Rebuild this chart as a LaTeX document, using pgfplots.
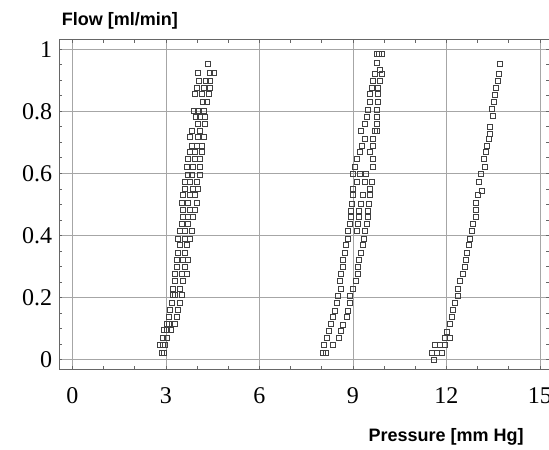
\documentclass[border=0pt]{standalone}
\usepackage{pgfplots}
\pgfplotsset{compat=1.18}
\usepackage{fontspec}
\setmainfont{Liberation Serif}
\newfontfamily\labelfont{Liberation Sans}
\begin{document}
\begin{tikzpicture}
\begin{axis}[
 at={(0,0)}, anchor=south west,
 scale only axis, width=244.85pt, height=164.65pt,
 xmin=-0.42, xmax=15.29, ymin=-0.0315, ymax=1.03,
 xtick={0,3,6,9,12,15}, ytick={0,0.2,0.4,0.6,0.8,1},
 minor x tick num=2, minor y tick num=3,
 tick align=inside, major tick length=1.5pt, minor tick length=1.5pt,
 grid=major, major grid style={black!35, line width=0.4pt},
 axis line style={black!60, line width=0.5pt},
 tick style={black!60, line width=0.4pt},
 ticklabel style={font=\fontsize{12}{12}\selectfont},
 /pgf/number format/assume math mode=true,
 yticklabel style={/pgf/number format/fixed, /pgf/number format/precision=1},
 xticklabel style={yshift=-5.5pt},
 xlabel={Pressure [mm Hg]}, ylabel={Flow [ml/min]},
 xlabel style={font=\labelfont\bfseries\fontsize{9}{9}\selectfont, at={(axis description cs:0.79,-0.206)}, anchor=center},
 ylabel style={font=\labelfont\bfseries\fontsize{9}{9}\selectfont, rotate=-90, at={(axis description cs:-0.009,1.058)}, anchor=west},
 pts/.style={only marks, mark=square, mark size=1.25pt, mark options={draw=black!75, fill=none, line width=0.45pt}},
]
% cluster 1
\addplot[pts] coordinates {
(2.86,0.022) (2.95,0.022)
(2.81,0.047) (2.97,0.047) (2.9,0.047)
(2.9,0.071) (3.02,0.071)
(2.95,0.095) (3.15,0.095) (3.02,0.095)
(3.04,0.116) (3.3,0.116) (3.1,0.116)
(3.11,0.138) (3.35,0.138)
(3.13,0.159) (3.4,0.159)
(3.19,0.181) (3.45,0.181)
(3.24,0.207) (3.5,0.207) (3.3,0.207)
(3.24,0.229) (3.45,0.229)
(3.29,0.253) (3.56,0.253)
(3.29,0.277) (3.5,0.277) (3.67,0.277)
(3.35,0.298) (3.61,0.298)
(3.35,0.32) (3.56,0.32) (3.72,0.32)
(3.4,0.345) (3.61,0.345)
(3.45,0.368) (3.67,0.368)
(3.4,0.39) (3.61,0.39) (3.77,0.39)
(3.45,0.413) (3.61,0.413) (3.83,0.413)
(3.5,0.438) (3.72,0.438)
(3.55,0.459) (3.72,0.459) (3.88,0.459)
(3.56,0.483) (3.77,0.483) (3.93,0.483)
(3.5,0.505) (3.72,0.505) (3.99,0.505)
(3.56,0.529) (3.77,0.529) (3.93,0.529)
(3.61,0.55) (3.88,0.55) (4.04,0.55)
(3.61,0.572) (3.77,0.572) (3.99,0.572)
(3.7,0.596) (3.83,0.596) (4.1,0.596)
(3.67,0.622) (3.88,0.622) (4.1,0.622)
(3.72,0.647) (3.93,0.647) (4.1,0.647)
(3.77,0.668) (3.93,0.668) (4.15,0.668)
(3.85,0.69) (3.99,0.69) (4.15,0.69)
(3.77,0.716) (4.04,0.716) (4.21,0.716)
(3.83,0.738) (4.1,0.738)
(4.04,0.759) (4.26,0.759)
(3.95,0.781) (4.1,0.781) (4.26,0.781)
(3.9,0.802) (4.04,0.802) (4.21,0.802)
(4.18,0.829) (4.31,0.829)
(3.93,0.856) (4.15,0.856) (4.39,0.856)
(3.99,0.875) (4.21,0.875) (4.41,0.875)
(4.05,0.899) (4.28,0.899) (4.41,0.899)
(4.04,0.925) (4.41,0.925) (4.54,0.925)
(4.36,0.954)
};
% cluster 2, left branch
\addplot[pts] coordinates {
(8.05,0.022) (8.12,0.022) (8.07,0.047) (8.16,0.068) (8.22,0.091)
(8.28,0.115) (8.35,0.137) (8.41,0.158) (8.5,0.182) (8.52,0.204)
(8.6,0.228) (8.57,0.253) (8.62,0.277) (8.68,0.298) (8.68,0.32)
(8.73,0.345) (8.78,0.368) (8.84,0.39) (8.84,0.413) (8.9,0.438)
(8.95,0.459) (8.95,0.48) (8.96,0.502) (9.01,0.529) (9.0,0.55)
(9.12,0.572) (9.01,0.598) (9.06,0.622) (9.12,0.646) (9.22,0.668)
(9.3,0.69) (9.38,0.711) (9.27,0.738) (9.38,0.76) (9.44,0.782)
(9.49,0.806) (9.55,0.83) (9.54,0.856) (9.6,0.877) (9.65,0.899)
(9.71,0.922) (9.76,0.956) (9.76,0.985)
};
% cluster 2, middle
\addplot[pts] coordinates {
(9.12,0.413) (9.15,0.438) (9.2,0.459) (9.2,0.48) (9.27,0.502)
(9.33,0.529) (9.38,0.572) (9.22,0.598)
};
% cluster 2, right branch
\addplot[pts] coordinates {
(8.37,0.047) (8.55,0.068) (8.62,0.091) (8.69,0.112) (8.8,0.137)
(8.85,0.158) (8.9,0.182) (8.9,0.204) (9.0,0.228) (9.1,0.253)
(9.15,0.277) (9.15,0.298) (9.2,0.32) (9.26,0.345) (9.31,0.368)
(9.36,0.39) (9.4,0.413) (9.44,0.438) (9.47,0.459) (9.47,0.48)
(9.52,0.502) (9.54,0.529) (9.55,0.55) (9.6,0.572) (9.41,0.598)
(9.63,0.622) (9.65,0.646) (9.54,0.668) (9.63,0.69) (9.65,0.711)
(9.71,0.738) (9.76,0.738) (9.76,0.76) (9.76,0.782) (9.76,0.806)
(9.81,0.83) (9.81,0.856) (9.81,0.877) (9.86,0.899) (9.92,0.922)
(9.86,0.935) (9.85,0.985) (9.92,0.985)
};
% cluster 3
\addplot[pts] coordinates {
(11.6,0.0)
(11.52,0.022) (11.68,0.022) (11.84,0.022)
(11.63,0.046) (11.79,0.046) (11.95,0.046)
(11.95,0.068) (12.11,0.068)
(12.0,0.089) (12.11,0.114) (12.17,0.137) (12.22,0.159) (12.27,0.182)
(12.38,0.204) (12.38,0.229) (12.43,0.253) (12.54,0.277) (12.59,0.298)
(12.62,0.322) (12.67,0.344) (12.73,0.368) (12.75,0.39) (12.81,0.414)
(12.86,0.438) (12.94,0.461) (12.96,0.483) (12.94,0.504) (13.02,0.529)
(13.13,0.545) (13.05,0.572) (13.1,0.598) (13.24,0.622) (13.2,0.646)
(13.27,0.668) (13.3,0.69) (13.35,0.711) (13.38,0.728) (13.4,0.75)
(13.48,0.784) (13.45,0.808) (13.52,0.83) (13.56,0.853) (13.59,0.875)
(13.66,0.899) (13.69,0.92) (13.72,0.952)
};
\end{axis}
\pgfresetboundingbox
\path[use as bounding box] (-29.65pt,-39.85pt) rectangle (244.85pt,184.65pt);
\end{tikzpicture}
\end{document}
